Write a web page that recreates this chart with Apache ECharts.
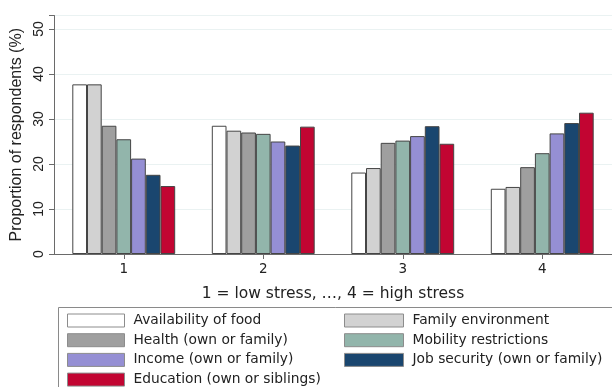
<!DOCTYPE html>
<html>
<head>
<meta charset="utf-8">
<script src="https://cdn.jsdelivr.net/npm/echarts@6/dist/echarts.min.js"></script>
<style>
  html, body { margin: 0; padding: 0; background: #ffffff; }
  #chart { width: 612px; height: 387px; }
</style>
</head>
<body>
<div id="chart"></div>
<script>
// Stress level categories on the x axis
const categories = ['1', '2', '3', '4'];

// Share of respondents (%) per source of stress, for stress levels 1..4
const availabilityOfFood = [37.7, 28.5, 18.1, 14.5];
const familyEnvironment  = [37.7, 27.4, 19.1, 14.9];
const health             = [28.5, 27.0, 24.7, 19.3];
const mobility           = [25.5, 26.7, 25.2, 22.4];
const income             = [21.2, 25.0, 26.2, 26.8];
const jobSecurity        = [17.6, 24.1, 28.4, 29.1];
const education          = [15.1, 28.3, 24.5, 31.4];

const seriesNames = [
  'Availability of food',
  'Family environment',
  'Health (own or family)',
  'Mobility restrictions',
  'Income (own or family)',
  'Job security (own or family)',
  'Education (own or siblings)'
];
const seriesData = [availabilityOfFood, familyEnvironment, health, mobility, income, jobSecurity, education];
const seriesColors = ['#ffffff', '#d2d2d2', '#9f9f9f', '#92b5ab', '#958fd4', '#1a466f', '#c20532'];

const yTicks = [0, 10, 20, 30, 40, 50];

const wideFont = 'DejaVu Sans, Verdana, sans-serif';
const font = 'Liberation Sans, Arial, sans-serif';
const chart = echarts.init(document.getElementById('chart'), null, { renderer: 'canvas' });

const series = seriesNames.map((name, i) => ({
  name: name,
  type: 'bar',
  data: seriesData[i],
  barWidth: 14.7,
  barGap: '0%',
  itemStyle: { color: seriesColors[i], borderColor: '#454545', borderWidth: 1 },
  emphasis: { disabled: true }
}));

const legendBase = {
  orient: 'vertical', top: 313.5, height: 90,
  itemWidth: 57, itemHeight: 13, itemGap: 5.7,
  icon: 'rect', selectedMode: false, padding: 0,
  itemStyle: { borderColor: '#8c8c8c', borderWidth: 1 },
  textStyle: { fontFamily: wideFont, fontSize: 13.8, color: '#222', lineHeight: 14, padding: [0, 0, 0, 4] }
};

chart.setOption({
  backgroundColor: '#ffffff',
  animation: false,
  grid: { left: 54, right: -3, top: 15.5, bottom: 133 },
  xAxis: {
    type: 'category',
    data: categories,
    name: '1 = low stress, \u2026, 4 = high stress',
    nameLocation: 'middle',
    nameGap: 32,
    nameTextStyle: { fontFamily: wideFont, fontSize: 15.5, color: '#222' },
    axisLine: { lineStyle: { color: '#6a6a6a', width: 1 } },
    axisTick: { show: true, alignWithLabel: true, length: 5, lineStyle: { color: '#6a6a6a' } },
    axisLabel: { fontFamily: wideFont, fontSize: 13.5, color: '#222', margin: 8 }
  },
  yAxis: {
    type: 'value',
    min: 0,
    max: 53,
    interval: 10,
    name: 'Proportion of respondents (%)',
    nameLocation: 'middle',
    nameGap: 23,
    nameTextStyle: { fontFamily: font, fontSize: 16, color: '#222' },
    axisLine: { show: true, lineStyle: { color: '#6a6a6a', width: 1 } },
    axisTick: { show: true, length: 5, lineStyle: { color: '#6a6a6a' } },
    axisLabel: {
      rotate: 90, fontFamily: font, fontSize: 14, color: '#222', margin: 8,
      formatter: v => (yTicks.indexOf(v) >= 0 ? String(v) : '')
    },
    splitLine: { show: true, lineStyle: { color: '#eaf2f2', width: 1 } }
  },
  legend: [
    Object.assign({}, legendBase, {
      left: 67,
      data: [seriesNames[0], seriesNames[2], seriesNames[4], seriesNames[6]]
    }),
    Object.assign({}, legendBase, {
      left: 344,
      itemWidth: 59,
      data: [seriesNames[1], seriesNames[3], seriesNames[5]]
    })
  ],
  graphic: [
    {
      type: 'rect',
      z: -1,
      shape: { x: 58.5, y: 307.5, width: 570, height: 100 },
      style: { fill: '#ffffff', stroke: '#8a8a8a', lineWidth: 1 }
    }
  ],
  series: series
});
</script>
</body>
</html>
